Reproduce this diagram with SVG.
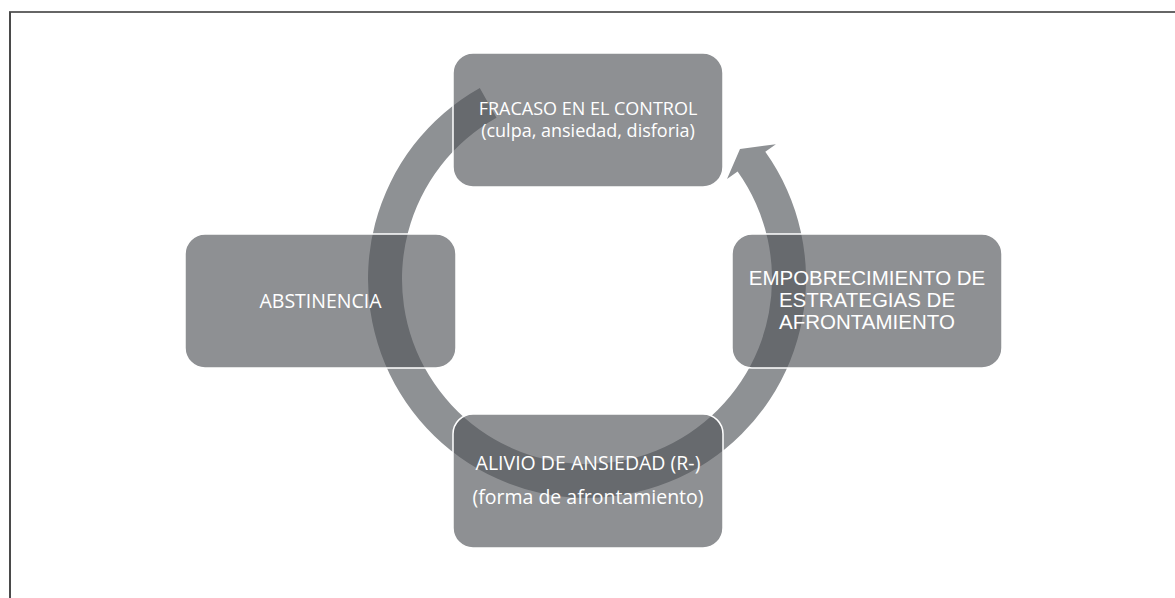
<svg xmlns="http://www.w3.org/2000/svg" width="1175" height="598" viewBox="0 0 1175 598">
  <style>
    .box { fill: #52565a; fill-opacity: 0.655; stroke: #ffffff; stroke-width: 1.5; }
    .t { fill: #ffffff; font-family: "Open Sans", "Noto Sans", sans-serif; text-anchor: middle; }
    .ta { fill: #ffffff; font-family: "Liberation Sans", Arial, sans-serif; text-anchor: middle; font-size: 20.5px; }
  </style>
  <rect x="0" y="0" width="1175" height="598" fill="#ffffff"/>
  <g id="frame">
    <line x1="9" y1="12" x2="1175" y2="12" stroke="#333333" stroke-width="1.5"/>
    <line x1="10" y1="12" x2="10" y2="598" stroke="#4a4a4a" stroke-width="2"/>
  </g>
  <g id="connectors">
    <path d="M 479.8,88 A 219 219 0 1 0 765.3,151.8 L 775.9,144.3 L 740,149 L 727,179.1 L 737.6,171.6 A 185 185 0 1 1 496.5,117.7 Z" fill="#8e9194"/>
  </g>
  <g id="node-fracaso">
    <rect class="box" x="453" y="53" width="270" height="134" rx="20"/>
    <text class="t" x="588" y="115" font-size="18">FRACASO EN EL CONTROL</text>
    <text class="t" x="588" y="137" font-size="18">(culpa, ansiedad, disforia)</text>
  </g>
  <g id="node-abstinencia">
    <rect class="box" x="185" y="234" width="271" height="134" rx="20"/>
    <text class="t" x="320.5" y="308" font-size="19.5">ABSTINENCIA</text>
  </g>
  <g id="node-empobrecimiento">
    <rect class="box" x="732" y="234" width="270" height="134" rx="20"/>
    <text class="ta" x="867" y="285">EMPOBRECIMIENTO DE</text>
    <text class="ta" x="867" y="307">ESTRATEGIAS DE</text>
    <text class="ta" x="867" y="329">AFRONTAMIENTO</text>
  </g>
  <g id="node-alivio">
    <rect class="box" x="453" y="414" width="270" height="134" rx="20"/>
    <text class="t" x="588" y="470" font-size="19.5">ALIVIO DE ANSIEDAD (R-)</text>
    <text class="t" x="588" y="504" font-size="19.5">(forma de afrontamiento)</text>
  </g>
</svg>
